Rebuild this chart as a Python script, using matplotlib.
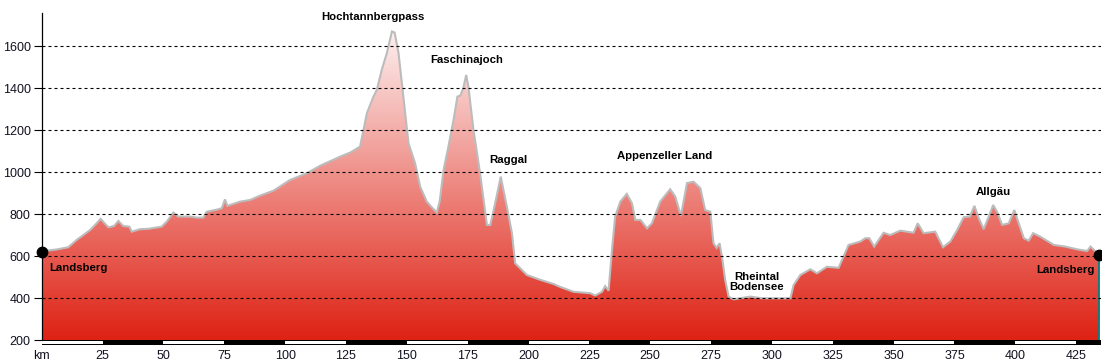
import numpy as np
import matplotlib
matplotlib.use("Agg")
import matplotlib.pyplot as plt
from matplotlib.patches import Rectangle, Polygon
from matplotlib.transforms import blended_transform_factory

# ---- data (distance km, elevation m) ----
km = [0, 3, 6, 10.9, 14.4, 17, 19.9, 22, 24.2, 26, 27.4, 29.7, 31.5, 33.5, 36, 37,
      40.4, 44, 49.3, 51.4, 54.1, 56.1, 61, 63.7, 66.4, 67.8, 72, 74, 75.3, 76.3,
      81.5, 85.6, 90, 95.2, 102, 108.9, 114.4, 118, 122.6, 127, 130.8, 132.2, 133.6,
      136.3, 137.7, 139.7, 141.8, 143.9, 145, 146.6, 148.6, 150.7, 153.4, 155.5,
      158.2, 160.5, 162.3, 163.5, 165.1, 167.1, 169.2, 170.8, 172, 173.2, 174.4,
      175.3, 177.4, 180.1, 182.9, 184.3, 186.3, 188.6, 191.1, 193.2, 194.5, 199.3,
      204.8, 210.3, 212.8, 218.5, 225.4, 227.4, 230.2, 231.5, 232.9, 234.3, 235.6,
      237.7, 240.4, 242.5, 243.9, 246, 248.7, 250.7, 254.1, 258.2, 260.3, 262.6,
      265.1, 267.8, 270.6, 272.6, 274.7, 276, 277.3, 278.5, 279.5, 280.8, 282.2,
      284.3, 291.1, 296, 300.7, 307.6, 308.9, 311.7, 315.8, 318.5, 322.6, 327.4,
      331.5, 336.3, 338.4, 340, 342, 345.9, 348.6, 352.7, 358.2, 359.9, 362.3,
      367.1, 370.3, 373.3, 376.1, 378.8, 381.3, 383.2, 385, 387, 389.1, 390.9,
      392.5, 394.6, 397.3, 399.6, 401.4, 403.5, 405.5, 407.3, 410.3, 415.8, 420.6,
      425.4, 429.5, 430.9, 434.5]
elev = [622, 628, 632, 643, 678, 700, 725, 750, 778, 755, 738, 744, 768, 744, 741, 717,
        729, 731, 741, 765, 808, 789, 789, 784, 784, 812, 822, 829, 871, 840,
        860, 868, 890, 912, 963, 995, 1031, 1050, 1074, 1095, 1122, 1201, 1281,
        1360, 1392, 1487, 1567, 1670, 1665, 1567, 1360, 1138, 1043, 931,
        860, 830, 808, 860, 1011, 1122, 1249, 1360, 1365, 1400, 1463,
        1408, 1201, 995, 749, 749, 852, 979, 836, 710, 567, 511,
        488, 468, 455, 431, 424, 413, 431, 458, 436, 630, 789,
        860, 897, 852, 773, 773, 733, 757, 860, 919, 884, 792,
        948, 955, 924, 820, 812, 662, 640, 662, 598, 487, 408,
        395, 408, 400, 400, 400, 463, 511, 538, 519, 550, 545,
        654, 670, 686, 686, 646, 712, 701, 722, 712, 757, 710,
        717, 643, 670, 725, 786, 789, 840, 781, 729, 789, 844,
        812, 749, 757, 820, 757, 686, 674, 710, 693, 654, 646,
        633, 625, 646, 606]

place_names = ["Hochtannbergpass", "Faschinajoch", "Raggal", "Appenzeller Land",
               "Rheintal\nBodensee", "Allgäu", "Landsberg", "Landsberg"]
place_km = [135.9, 174.8, 191.9, 255.8, 293.9, 390.9, 3.0, 432.5]
place_elev = [1740, 1535, 1059, 1079, 478, 908, 543, 533]
place_ha = ["center", "center", "center", "center", "center", "center", "left", "right"]

y_ticks = [200, 400, 600, 800, 1000, 1200, 1400, 1600]
grid_vals = [400, 600, 800, 1000, 1200, 1400, 1600]
x_ticks = list(range(0, 426, 25))
x_labels = ["km"] + [str(v) for v in x_ticks[1:]]

# ---- figure ----
W, H = 1102, 364
fig = plt.figure(figsize=(W / 100, H / 100), dpi=100)
ax_left, ax_right, ax_top, ax_bottom = 41.7, 1100.5, 13, 340.3
ax = fig.add_axes([ax_left / W, (H - ax_bottom) / H,
                   (ax_right - ax_left) / W, (ax_bottom - ax_top) / H])
xmax = 435.0
ax.set_xlim(0, xmax)
ax.set_ylim(200, 1758)

# gradient fill clipped to profile
bot = np.array([222, 34, 20]) / 255.0
top = np.array([254, 244, 244]) / 255.0
n = 256
t = np.linspace(0, 1, n)[:, None]
grad = (bot[None, :] * (1 - t) + top[None, :] * t)[:, None, :]
im = ax.imshow(grad, extent=[0, xmax, 200, 1700], aspect="auto", origin="lower",
               zorder=1, interpolation="bilinear")
poly_xy = np.column_stack([[km[0]] + km + [km[-1]], [200] + elev + [200]])
poly = Polygon(poly_xy, closed=True, facecolor="none", edgecolor="none",
               transform=ax.transData)
ax.add_patch(poly)
im.set_clip_path(poly)

# grey outline
ax.plot(km, elev, color="#bcbcbc", lw=1.5, zorder=3, solid_joinstyle="miter")

# teal right edge
ax.vlines(km[-1], 200, elev[-1], color="#008080", lw=1.3, zorder=4)

# grid lines
ax.hlines(grid_vals, 0, xmax, colors="black", lw=0.8,
          linestyles=(0, (2.7, 2.7)), zorder=4)

# end points
ax.plot([km[0], km[-1]], [elev[0], elev[-1]], "o", color="black",
        markersize=7.5, zorder=6, clip_on=False)

# scale bar below axis
tr = blended_transform_factory(ax.transData, ax.transAxes)
ah = ax_bottom - ax_top
ax.add_patch(Rectangle((0, -4.3 / ah), xmax, 4.3 / ah, transform=tr,
                       facecolor="black", edgecolor="none", clip_on=False, zorder=5))
for i, x0 in enumerate(range(0, int(xmax), 25)):
    if i % 2 == 0:
        w = min(25, xmax - x0)
        ax.add_patch(Rectangle((x0, -3.3 / ah), w, 2.3 / ah, transform=tr,
                               facecolor="white", edgecolor="none",
                               clip_on=False, zorder=6))

# place labels
for name, xk, ye, ha in zip(place_names, place_km, place_elev, place_ha):
    ax.text(xk, ye, name, ha=ha, va="center", fontsize=8.2,
            fontweight="bold", family="Liberation Sans", color="black",
            zorder=7, linespacing=1.0)

# axes styling
for s in ["top", "right", "bottom"]:
    ax.spines[s].set_visible(False)
ax.spines["left"].set_linewidth(0.9)
ax.spines["left"].set_zorder(8)
ax.set_yticks(y_ticks)
ax.set_yticklabels([str(v) for v in y_ticks])
ax.tick_params(axis="y", length=6, width=0.8, pad=2, labelsize=9, colors="black")
ax.set_xticks(x_ticks)
ax.set_xticklabels(x_labels)
ax.tick_params(axis="x", length=0, pad=7, labelsize=9, colors="black")
for lbl in ax.get_xticklabels() + ax.get_yticklabels():
    lbl.set_family("Liberation Sans")
    lbl.set_color("#111122")

fig.savefig("out.png", dpi=100)
